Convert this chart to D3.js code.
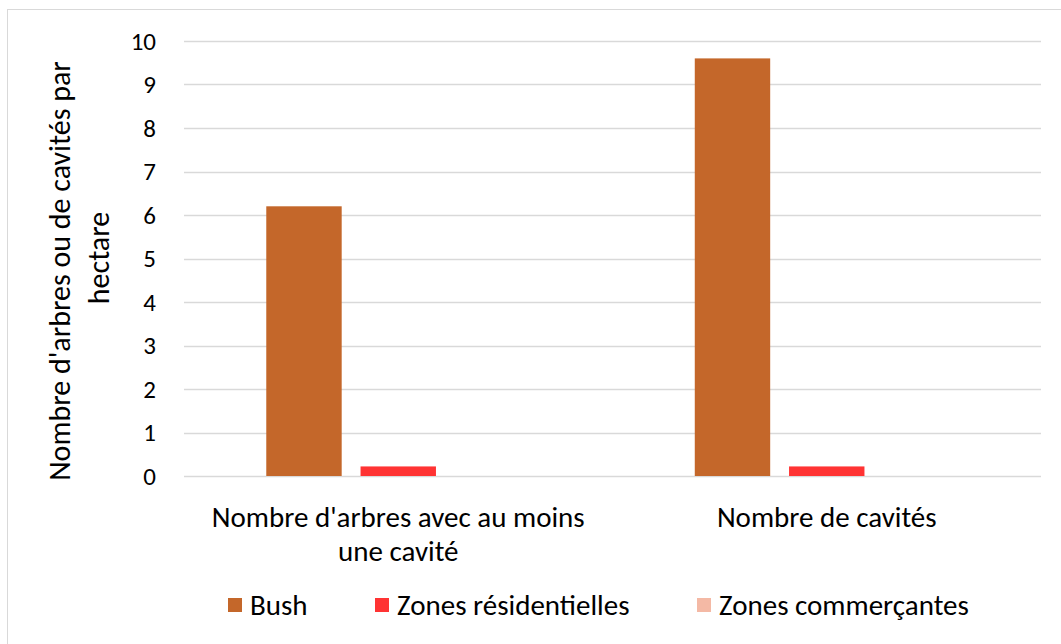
<!DOCTYPE html>
<html>
<head>
<meta charset="utf-8">
<script src="https://cdn.jsdelivr.net/npm/d3@7"></script>
<style>
  html, body { margin: 0; padding: 0; background: #fff; }
  svg { display: block; font-family: Carlito, Calibri, Lato, sans-serif; }
</style>
</head>
<body>
<div id="chart"></div>
<script>
const CATEGORIES = [
  ["Nombre d'arbres avec au moins", "une cavité"],
  ["Nombre de cavités"],
];
const SERIES = ["Bush", "Zones résidentielles", "Zones commerçantes"];
const BUSH = [6.2, 9.6];
const RESIDENTIAL = [0.22, 0.22];
const COMMERCIAL = [0, 0];
const Y_TICKS = [0, 1, 2, 3, 4, 5, 6, 7, 8, 9, 10];

const COLORS = ["#c4672a", "#ff3333", "#f4b9a5"];
const FONT = 29;

const width = 1061;
const height = 644;
const plot = { left: 184, right: 1041, top: 41, bottom: 476 };

const svg = d3.select("#chart").append("svg")
  .attr("width", width)
  .attr("height", height);

// chart area border (clipped at right / bottom like the original)
svg.append("rect")
  .attr("x", 7.5).attr("y", 9.5)
  .attr("width", width + 10).attr("height", height + 10)
  .attr("fill", "#fff")
  .attr("stroke", "#d9d9d9")
  .attr("stroke-width", 1);

const y = d3.scaleLinear().domain([0, 10]).range([plot.bottom, plot.top]);

const x0 = d3.scaleBand()
  .domain(d3.range(CATEGORIES.length))
  .range([plot.left, plot.right]);

const groupWidth = x0.bandwidth() * 0.616;
const x1 = d3.scaleBand()
  .domain(d3.range(SERIES.length))
  .range([0, groupWidth])
  .paddingInner(0.2);

// gridlines
svg.append("g")
  .selectAll("line")
  .data(Y_TICKS)
  .join("line")
  .attr("x1", plot.left).attr("x2", plot.right)
  .attr("y1", (d) => Math.round(y(d)) + 0.5)
  .attr("y2", (d) => Math.round(y(d)) + 0.5)
  .attr("stroke", "#d9d9d9")
  .attr("stroke-width", 1.5);

// y tick labels
svg.append("g")
  .selectAll("text")
  .data(Y_TICKS)
  .join("text")
  .attr("x", 156)
  .attr("y", (d) => y(d))
  .attr("dy", "0.35em")
  .attr("text-anchor", "end")
  .attr("font-size", 25)
  .attr("fill", "#000")
  .text((d) => d);

// bars
const values = [BUSH, RESIDENTIAL, COMMERCIAL];
const bars = [];
CATEGORIES.forEach((c, i) => {
  SERIES.forEach((s, j) => bars.push({ cat: i, series: j, value: values[j][i] }));
});

svg.append("g")
  .selectAll("rect")
  .data(bars.filter((d) => d.value > 0))
  .join("rect")
  .attr("x", (d) => x0(d.cat) + (x0.bandwidth() - groupWidth) / 2 + x1(d.series))
  .attr("y", (d) => y(d.value))
  .attr("width", x1.bandwidth())
  .attr("height", (d) => y(0) - y(d.value))
  .attr("fill", (d) => COLORS[d.series]);

// category labels
svg.append("g")
  .selectAll("text")
  .data(CATEGORIES)
  .join("text")
  .attr("x", (d, i) => x0(i) + x0.bandwidth() / 2)
  .attr("y", 527)
  .attr("text-anchor", "middle")
  .attr("font-size", FONT)
  .attr("fill", "#000")
  .each(function (d) {
    d3.select(this).selectAll("tspan")
      .data(d)
      .join("tspan")
      .attr("x", d3.select(this).attr("x"))
      .attr("dy", (t, k) => (k === 0 ? 0 : 34))
      .text((t) => t);
  });

// y axis title
const yTitle = svg.append("text")
  .attr("transform", `translate(70, 271) rotate(-90)`)
  .attr("text-anchor", "middle")
  .attr("font-size", FONT + 1)
  .attr("fill", "#000");
yTitle.append("tspan").attr("x", 0).attr("dy", 0).text("Nombre d'arbres ou de cavités par");
yTitle.append("tspan").attr("x", 13).attr("dy", 39).text("hectare");

// legend
const LEGEND_X = [228, 375, 697];
const legend = svg.append("g")
  .selectAll("g")
  .data(SERIES)
  .join("g")
  .attr("transform", (d, i) => `translate(${LEGEND_X[i]}, 605)`);

legend.append("rect")
  .attr("x", 0).attr("y", -7)
  .attr("width", 14).attr("height", 14)
  .attr("fill", (d, i) => COLORS[i]);

legend.append("text")
  .attr("x", 22)
  .attr("dy", "0.35em")
  .attr("font-size", FONT)
  .attr("fill", "#000")
  .text((d) => d);
</script>
</body>
</html>
